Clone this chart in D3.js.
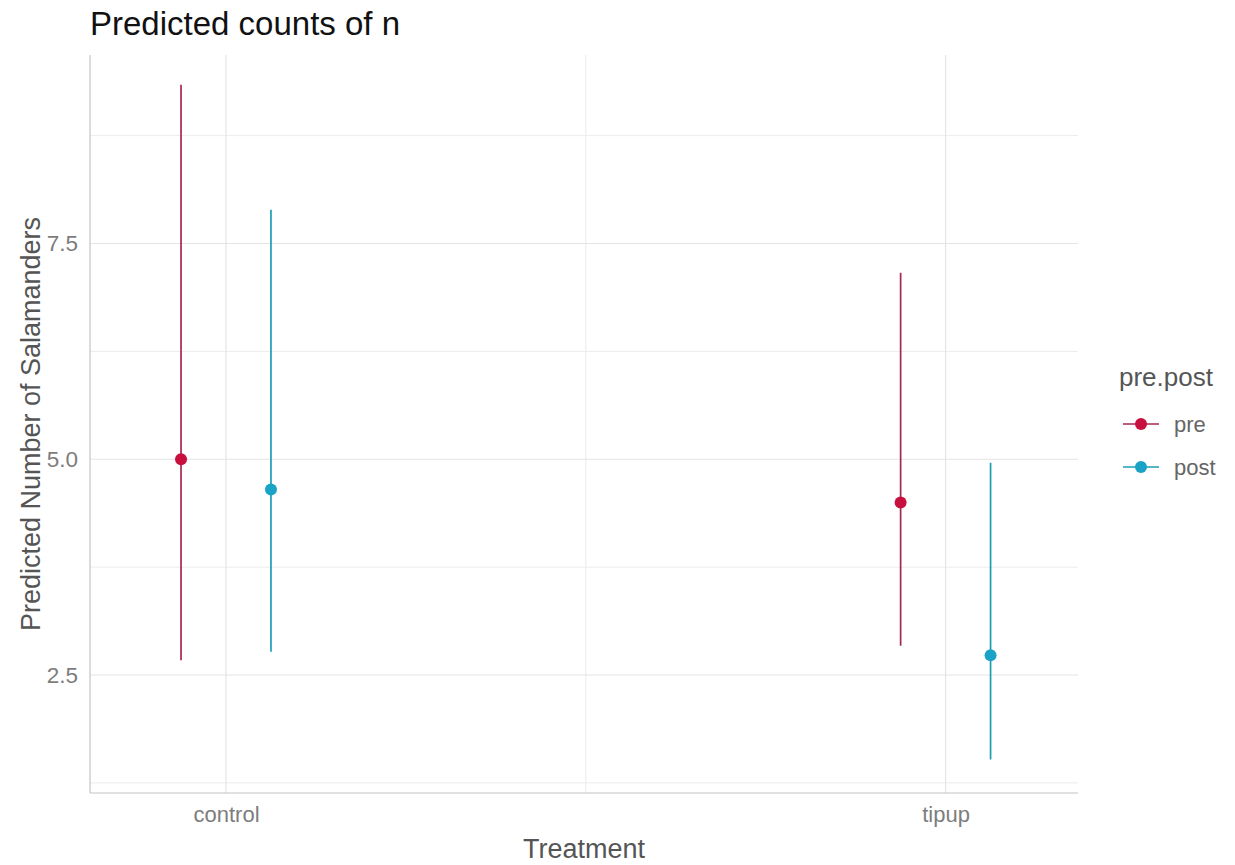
<!DOCTYPE html>
<html>
<head>
<meta charset="utf-8">
<script src="https://cdn.jsdelivr.net/npm/d3@7"></script>
<style>
  body { margin: 0; background: #fff; }
  svg { display: block; font-family: "Liberation Sans", Arial, sans-serif; }
</style>
</head>
<body>
<svg id="chart" width="1235" height="865"></svg>
<script>
// Predicted salamander counts by treatment, split by pre/post period
const treatments = ["control", "tipup"];
const groups = ["pre", "post"];
const predicted = [5.00, 4.65, 4.50, 2.73];   // control-pre, control-post, tipup-pre, tipup-post
const lower     = [2.67, 2.77, 2.84, 1.52];
const upper     = [9.34, 7.89, 7.16, 4.96];
const yTicks = [2.5, 5.0, 7.5];
const yMinor = [1.25, 3.75, 6.25, 8.75];
const groupColors = ["#c8103f", "#1aa3c6"];
const lineColors  = ["#a8274f", "#1b9eb5"];

const rows = [];
treatments.forEach((t, i) => groups.forEach((g, j) => {
  const k = i * groups.length + j;
  rows.push({ t, i, g, j, fit: predicted[k], lo: lower[k], hi: upper[k] });
}));

const svg = d3.select("#chart");
const pLeft = 90, pRight = 1078, pTop = 55, pBottom = 793;

// Categories sit at 1 and 2 on a continuous scale; dodge offsets each group
const x = d3.scaleLinear().domain([0.811, 2.184]).range([pLeft, pRight]);
const y = d3.scaleLinear().domain([1.133, 9.684]).range([pBottom, pTop]);
const dodge = 0.0625;
const xPos = d => x(d.i + 1 + (d.j === 0 ? -dodge : dodge));

const grid = svg.append("g");
// minor grid
grid.selectAll(".ym").data(yMinor).join("line")
  .attr("x1", pLeft).attr("x2", pRight)
  .attr("y1", d => y(d)).attr("y2", d => y(d))
  .attr("stroke", "#ececec").attr("stroke-width", 1);
grid.append("line")
  .attr("x1", x(1.5)).attr("x2", x(1.5)).attr("y1", pTop).attr("y2", pBottom)
  .attr("stroke", "#ececec").attr("stroke-width", 1);
// major grid
grid.selectAll(".yM").data(yTicks).join("line")
  .attr("x1", pLeft).attr("x2", pRight)
  .attr("y1", d => y(d)).attr("y2", d => y(d))
  .attr("stroke", "#e4e4e4").attr("stroke-width", 1.2);
grid.selectAll(".xM").data(treatments).join("line")
  .attr("x1", (d, i) => x(i + 1)).attr("x2", (d, i) => x(i + 1))
  .attr("y1", pTop).attr("y2", pBottom)
  .attr("stroke", "#e4e4e4").attr("stroke-width", 1.2);

// axis lines
svg.append("line").attr("x1", pLeft).attr("x2", pLeft).attr("y1", pTop).attr("y2", pBottom)
  .attr("stroke", "#c4c4c4").attr("stroke-width", 1.2);
svg.append("line").attr("x1", pLeft).attr("x2", pRight).attr("y1", pBottom).attr("y2", pBottom)
  .attr("stroke", "#c4c4c4").attr("stroke-width", 1.2);

// axes text via d3 axes
const yAxis = svg.append("g").attr("transform", `translate(${pLeft},0)`)
  .call(d3.axisLeft(y).tickValues(yTicks).tickFormat(d3.format(".1f")).tickSize(0).tickPadding(12));
yAxis.select(".domain").remove();
yAxis.selectAll("text").attr("fill", "#7d7d7d").attr("font-size", 22.5)
  .attr("font-family", "Liberation Sans, Arial, sans-serif");

const xAxis = svg.append("g").attr("transform", `translate(0,${pBottom})`)
  .call(d3.axisBottom(x).tickValues([1, 2]).tickFormat(d => treatments[d - 1]).tickSize(0).tickPadding(13));
xAxis.select(".domain").remove();
xAxis.selectAll("text").attr("fill", "#7d7d7d").attr("font-size", 22)
  .attr("font-family", "Liberation Sans, Arial, sans-serif");

// error bars
svg.selectAll(".ci").data(rows).join("line")
  .attr("x1", xPos).attr("x2", xPos)
  .attr("y1", d => y(d.lo)).attr("y2", d => y(d.hi))
  .attr("stroke", d => lineColors[d.j]).attr("stroke-width", 1.7);
// points
svg.selectAll(".pt").data(rows).join("circle")
  .attr("cx", xPos).attr("cy", d => y(d.fit)).attr("r", 6)
  .attr("fill", d => groupColors[d.j]);

// titles
svg.append("text").attr("x", 90).attr("y", 35).attr("font-size", 33)
  .attr("fill", "#111").text("Predicted counts of n");
svg.append("text").attr("x", (pLeft + pRight) / 2).attr("y", 858).attr("text-anchor", "middle")
  .attr("font-size", 27).attr("fill", "#555").text("Treatment");
svg.append("text").attr("transform", `translate(40,${(pTop + pBottom) / 2}) rotate(-90)`)
  .attr("text-anchor", "middle").attr("font-size", 27).attr("fill", "#555")
  .text("Predicted Number of Salamanders");

// legend
const lg = svg.append("g").attr("transform", "translate(1119,0)");
lg.append("text").attr("x", 0).attr("y", 386).attr("font-size", 26).attr("fill", "#555").text("pre.post");
groups.forEach((g, j) => {
  const cy = 424 + j * 43;
  lg.append("line").attr("x1", 4).attr("x2", 40).attr("y1", cy).attr("y2", cy)
    .attr("stroke", lineColors[j]).attr("stroke-width", 1.7);
  lg.append("circle").attr("cx", 22).attr("cy", cy).attr("r", 6).attr("fill", groupColors[j]);
  lg.append("text").attr("x", 55).attr("y", cy + 8).attr("font-size", 22).attr("fill", "#666").text(g);
});
</script>
</body>
</html>
